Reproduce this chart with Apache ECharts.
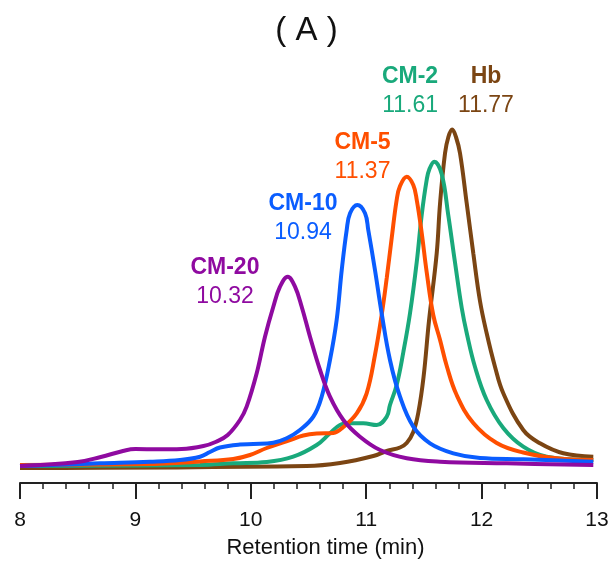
<!DOCTYPE html>
<html>
<head>
<meta charset="utf-8">
<script src="https://cdn.jsdelivr.net/npm/echarts@6/dist/echarts.min.js"></script>
<style>html,body{margin:0;padding:0;background:#fff;}#c{width:613px;height:565px;}</style>
</head>
<body>
<div id="c"></div>
<script>
// Retention time (min) and detector response (arbitrary units)
const hbT = [8.0,10.484,10.773,11.062,11.178,11.293,11.351,11.408,11.451,11.497,11.544,11.611,11.640,11.683,11.712,11.745,11.778,11.813,11.871,11.928,11.986,12.044,12.116,12.188,12.361,12.506,12.708,12.968];
const hbV = [15,17,20,27,32,35.5,40,51,70,106,162,229.7,279.7,329.7,346,353.5,346,329.7,279.7,229.7,182,149.7,116.3,89.7,53,39.7,29.7,26.3];

const cm2T = [8.0,9.560,9.848,10.138,10.368,10.571,10.686,10.773,10.860,10.975,11.091,11.178,11.206,11.264,11.322,11.380,11.438,11.481,11.524,11.548,11.590,11.654,11.711,11.769,11.828,11.871,11.943,12.044,12.188,12.361,12.564,12.968];
const cm2V = [17,18,19.7,21,26.3,38,49.7,58,59.7,59.7,58,66.3,78,98,131,170,221,268,303,314,321.3,309,268,221,175,150,116,83,55,36.3,26.3,23];

const cm5T = [8.0,9.127,9.386,9.560,9.848,9.993,10.138,10.340,10.455,10.571,10.715,10.802,10.918,11.004,11.076,11.134,11.178,11.221,11.264,11.293,11.351,11.408,11.438,11.481,11.524,11.581,11.640,11.698,11.784,11.928,12.131,12.361,12.651,12.968];
const cm5V = [18,19,20.3,21.5,24,28,35,43,47.5,49.5,50,56,69.7,89.7,128,168,205,245,283,297,306.3,298,283,250,211,168,143,117,88,60,40,30.5,24.7,23];

const cm10T = [8.0,8.693,9.127,9.386,9.560,9.646,9.733,9.906,10.022,10.195,10.311,10.426,10.542,10.614,10.686,10.744,10.788,10.831,10.860,10.923,10.990,11.018,11.076,11.134,11.206,11.293,11.408,11.553,11.755,11.986,12.361,12.968];
const cm10V = [17,19.7,21.3,23,26.3,31,35.5,38.5,39,40.3,44.7,53,66.3,86.3,123,163,213,253,269.7,278,269.7,253,213,169.7,123,86.3,56.3,39.7,29.7,25,23.7,21.3];

const cm20T = [8.0,8.5,8.7,8.9,9.0,9.2,9.4,9.59,9.70,9.80,9.906,9.964,10.051,10.123,10.195,10.253,10.320,10.383,10.441,10.513,10.600,10.686,10.802,10.946,11.120,11.351,11.640,12.218,12.968];
const cm20V = [17,21,26,32.3,34,33.7,34,37,41.3,48,63,76.3,109.7,146.3,176.3,196.3,206.3,196.3,176.3,146.3,113,86.3,63,46.3,33,24.7,21.3,19.7,18];

// Peak annotations
const names = ['Hb','CM-2','CM-5','CM-10','CM-20'];
const peakTimes = ['11.77','11.61','11.37','10.94','10.32'];
const colors = ['#7b4513','#19a97b','#ff4f00','#0a5dff','#8f0aa0'];
const labelT = [12.038,11.38,10.968,10.452,9.776];
const labelV = [391.5,391.5,325.5,264.5,200.5];

const xMin = 8, xMax = 13, xInterval = 1;

const seriesT = [hbT, cm2T, cm5T, cm10T, cm20T];
const seriesV = [hbV, cm2V, cm5V, cm10V, cm20V];

const font = 'Liberation Sans, Arial, Helvetica, sans-serif';

const series = names.map((n, i) => ({
  name: n,
  type: 'line',
  smooth: 0.4,
  symbol: 'none',
  data: seriesT[i].map((t, k) => [t, seriesV[i][k]]),
  lineStyle: { color: colors[i], width: 4 },
  itemStyle: { color: colors[i] },
  z: 2 + i,
  markPoint: {
    symbol: 'circle',
    symbolSize: 0,
    silent: true,
    data: [{
      coord: [labelT[i], labelV[i]],
      label: {
        show: true,
        position: 'inside',
        formatter: '{b|' + n + '}\n{n|' + peakTimes[i] + '}',
        rich: {
          b: { fontFamily: font, fontSize: 23, fontWeight: 'bold', color: colors[i], lineHeight: 29, align: 'center' },
          n: { fontFamily: font, fontSize: 23, color: colors[i], lineHeight: 29, align: 'center' }
        }
      }
    }]
  }
}));

const chart = echarts.init(document.getElementById('c'), null, { renderer: 'canvas' });
chart.setOption({
  animation: false,
  backgroundColor: '#fff',
  title: {
    text: '( A )',
    left: 'center',
    top: 9,
    textStyle: { fontFamily: font, fontSize: 33, fontWeight: 'normal', color: '#111' }
  },
  grid: { left: 20, right: 16, top: 63, bottom: 82 },
  xAxis: {
    type: 'value',
    min: xMin, max: xMax, interval: xInterval,
    name: 'Retention time (min)',
    nameLocation: 'middle',
    nameGap: 54,
    nameTextStyle: { fontFamily: font, fontSize: 22, color: '#111', padding: [0, 0, 0, 34] },
    axisLine: { show: true, lineStyle: { color: '#222', width: 2 } },
    axisTick: { show: true, length: 16, lineStyle: { color: '#222', width: 2 } },
    minorTick: { show: true, splitNumber: 5, length: 6, lineStyle: { color: '#222', width: 1.5 } },
    splitLine: { show: false },
    axisLabel: { fontFamily: font, fontSize: 21, color: '#111', margin: 27 }
  },
  yAxis: {
    type: 'value', min: 0, max: 420, show: false,
    splitLine: { show: false }
  },
  series: series
});
</script>
</body>
</html>
